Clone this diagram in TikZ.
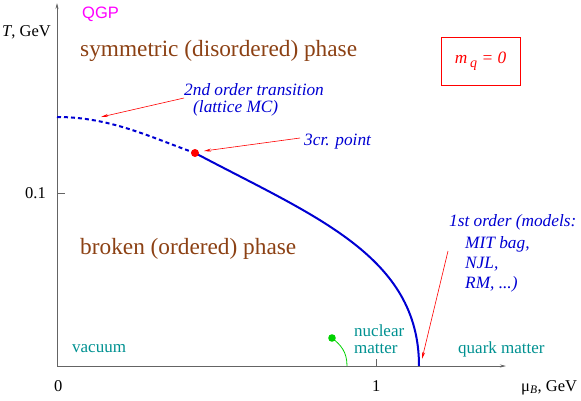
\documentclass[tikz,border=0pt]{standalone}
\usepackage{fontspec}
\setmainfont{Liberation Serif}
\newfontfamily\sansf{Liberation Sans}
\usetikzlibrary{arrows.meta}
\definecolor{axisgray}{RGB}{100,100,100}
\definecolor{phbrown}{RGB}{140,65,20}
\definecolor{tealc}{RGB}{0,145,145}
\definecolor{bluec}{RGB}{0,0,210}
\definecolor{greenc}{RGB}{0,210,0}
\definecolor{magc}{RGB}{255,0,255}
\tikzset{
  lbl/.style={inner sep=0pt, anchor=base west, font=\fontsize{16.5}{19}\selectfont},
  phase/.style={inner sep=0pt, anchor=base west, text=phbrown, font=\fontsize{23.3}{27}\selectfont},
  note/.style={inner sep=0pt, anchor=base west, text=bluec, font=\fontsize{17.3}{20}\selectfont\itshape},
  region/.style={inner sep=0pt, anchor=base west, text=tealc, font=\fontsize{17}{20}\selectfont},
  axis/.style={draw=axisgray, line width=0.7pt},
  redarrow/.style={draw=red, line width=0.6pt, -{Stealth[length=7pt,width=3pt]}},
  curve/.style={draw=bluec, line width=2pt},
}
\begin{document}
\begin{tikzpicture}[x=1pt,y=-1pt]
\useasboundingbox (0,0) rectangle (581,400);
% axes
\coordinate (O) at (57,366);
\coordinate (ytop) at (57,3);
\coordinate (xend) at (506,366);
\draw[axis,-{Stealth[length=6pt,width=3pt]}] (O) -- (ytop);
\draw[axis,-{Stealth[length=6pt,width=3pt]}] (O) -- (xend);
\coordinate (ty) at (57,193);
\coordinate (tyE) at (65,193);
\draw[axis] (ty) -- (tyE);
\coordinate (tx) at (376,366);
\coordinate (txE) at (376,359);
\draw[axis] (tx) -- (txE);
% axis labels
\node[lbl] (Tlab) at (2,36) {\textit{T}, GeV};
\node[lbl] (y01) at (25,198) {0.1};
\node[lbl] (x0) at (54,391) {0};
\node[lbl] (x1) at (372,391) {1};
\node[lbl] (mulab) at (521,391) {μ\textsubscript{\textit{B}}, GeV};
\node[inner sep=0pt, anchor=base west, text=magc, font=\sansf\fontsize{16.5}{19}\selectfont] (qgp) at (82,18) {QGP};
% phases
\node[phase] (sym) at (80,56) {symmetric (disordered) phase};
\node[phase] (brk) at (80,254) {broken (ordered) phase};
% mass box
\node[draw=red, line width=1pt, minimum width=79pt, minimum height=48pt, inner sep=0pt, text=red, font=\fontsize{17.3}{20}\selectfont\itshape] (mq) at (480.5,61) {m\,\raisebox{-0.45ex}{\fontsize{14}{16}\selectfont q} = 0};
% transition line
\coordinate (t0) at (57,117);
\coordinate (cp) at (195,153);
\coordinate (tend) at (419,366);
\draw[curve, dash pattern=on 4pt off 3pt] (t0) .. controls (110,117) and (150,137) .. (cp);
\draw[curve] (cp) .. controls (315,216.6) and (419,256) .. (tend);
\fill[red] (cp) circle (4pt);
% notes
\node[note] (n2) at (184,95) {2nd order transition};
\node[note] (n2b) at (193,112) {(lattice MC)};
\node[note] (n3) at (304,145) {3cr. point};
\node[note] (n1) at (449,226) {1st order (models:};
\node[note] (n1b) at (465,248) {MIT bag,};
\node[note] (n1c) at (465,268) {NJL,};
\node[note] (n1d) at (465,288) {RM, ...)};
% red arrows
\coordinate (a2s) at (184,98);
\coordinate (a2e) at (101,117);
\draw[redarrow] (a2s) -- (a2e);
\coordinate (a3s) at (300,138);
\coordinate (a3e) at (204,151);
\draw[redarrow] (a3s) -- (a3e);
\coordinate (a1s) at (448,251);
\coordinate (a1e) at (422,359);
\draw[redarrow] (a1s) -- (a1e);
% regions
\node[region] (vac) at (72,352) {vacuum};
\node[region, text depth=0pt] (nuc) at (354,336.5) {nuclear};
\node[region, text height=10pt] (nuc2) at (354,353) {matter};
\node[region] (qm) at (458,353) {quark matter};
% nuclear matter point
\coordinate (gdot) at (332,338);
\coordinate (gend) at (347,366);
\draw[greenc, line width=0.8pt] (gdot) .. controls (341,345) and (347,352) .. (gend);
\fill[greenc] (gdot) circle (3.8pt);
\end{tikzpicture}
\end{document}
